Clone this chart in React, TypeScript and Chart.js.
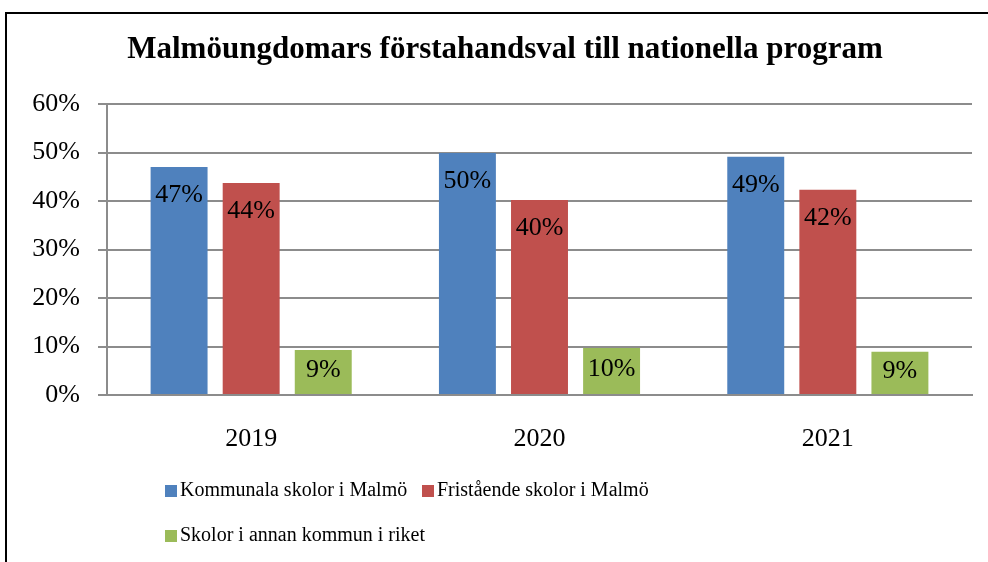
import React, { useEffect, useRef } from "react";
import { Chart, registerables } from "chart.js";

Chart.register(...registerables);

const categories = ["2019", "2020", "2021"];
const kommunala = [47.0, 49.9, 49.1];
const fristaende = [43.7, 40.2, 42.3];
const annanKommun = [9.3, 9.7, 8.9];
const seriesNames = [
  "Kommunala skolor i Malmö",
  "Fristående skolor i Malmö",
  "Skolor i annan kommun i riket",
];
const seriesColors = ["#4F81BD", "#C0504D", "#9BBB59"];
const yTicks = [0, 10, 20, 30, 40, 50, 60];
const titleText = "Malmöungdomars förstahandsval till nationella program";

const FONT = "'Liberation Serif', 'DejaVu Serif', serif";

const framePlugin = {
  id: "frame",
  beforeDraw(chart: any) {
    const ctx = chart.ctx;
    ctx.save();
    ctx.fillStyle = "#ffffff";
    ctx.fillRect(0, 0, chart.width, chart.height);
    ctx.strokeStyle = "#000000";
    ctx.lineWidth = 2;
    ctx.strokeRect(6, 13, chart.width + 100, chart.height + 100);
    ctx.restore();
  },
  afterDraw(chart: any) {
    const ctx = chart.ctx;
    ctx.save();
    ctx.font = `bold 31px ${FONT}`;
    ctx.fillStyle = "#000000";
    ctx.textAlign = "center";
    ctx.textBaseline = "middle";
    ctx.fillText(titleText, 505, 50);
    ctx.restore();
  },
};

const labelPlugin = {
  id: "barLabels",
  afterDatasetsDraw(chart: any) {
    const ctx = chart.ctx;
    ctx.save();
    ctx.font = `26px ${FONT}`;
    ctx.fillStyle = "#000000";
    ctx.textAlign = "center";
    ctx.textBaseline = "middle";
    chart.data.datasets.forEach((ds: any, di: number) => {
      const meta = chart.getDatasetMeta(di);
      meta.data.forEach((el: any, i: number) => {
        const h = el.base - el.y;
        const y = el.y + Math.min(28, h / 2 - 2);
        ctx.fillText(Math.round(ds.data[i]) + "%", el.x, y);
      });
    });
    ctx.restore();
  },
};

const legendPlugin = {
  id: "customLegend",
  afterDraw(chart: any) {
    const ctx = chart.ctx;
    const pos = [
      { x: 165, y: 491 },
      { x: 422, y: 491 },
      { x: 165, y: 536 },
    ];
    ctx.save();
    ctx.font = `20px ${FONT}`;
    ctx.textBaseline = "middle";
    ctx.textAlign = "left";
    chart.data.datasets.forEach((ds: any, i: number) => {
      const p = pos[i];
      ctx.fillStyle = ds.backgroundColor;
      ctx.fillRect(p.x, p.y - 6, 12, 12);
      ctx.fillStyle = "#000000";
      ctx.fillText(ds.label, p.x + 15, p.y);
    });
    ctx.restore();
  },
};

export default function App() {
  const ref = useRef<HTMLCanvasElement | null>(null);
  useEffect(() => {
    if (!ref.current) return;
    const datasets = [kommunala, fristaende, annanKommun].map((d, i) => ({
      label: seriesNames[i],
      data: d,
      backgroundColor: seriesColors[i],
      borderWidth: 0,
      categoryPercentage: 0.75,
      barPercentage: 0.79,
    }));
    const chart = new Chart(ref.current, {
      type: "bar",
      data: { labels: categories, datasets },
      options: {
        animation: false,
        responsive: false,
        devicePixelRatio: 1,
        layout: { padding: { left: 0, right: 16, top: 104, bottom: 0 } },
        plugins: {
          legend: { display: false },
          tooltip: { enabled: false },
          title: { display: false },
        },
        scales: {
          x: {
            grid: { display: false },
            border: { display: true, color: "#8c8c8c", width: 2 },
            ticks: {
              color: "#000000",
              font: { family: FONT, size: 26 },
              padding: 21,
            },
            afterFit: (s: any) => {
              s.height = 167;
            },
          },
          y: {
            min: 0,
            max: 60,
            afterBuildTicks: (s: any) => {
              s.ticks = yTicks.map((v) => ({ value: v }));
            },
            grid: { color: "#8c8c8c", lineWidth: 2, tickLength: 9 },
            border: { display: true, color: "#8c8c8c", width: 2 },
            ticks: {
              color: "#000000",
              font: { family: FONT, size: 26 },
              padding: 18,
              callback: (v: any) => v + "%",
            },
            afterFit: (s: any) => {
              s.width = 107;
            },
          },
        },
      },
      plugins: [framePlugin, labelPlugin, legendPlugin],
    });
    return () => chart.destroy();
  }, []);
  return (
    <div style={{ position: "fixed", left: 0, top: 0, width: 988, height: 562 }}>
      <canvas ref={ref} width={988} height={562} style={{ width: 988, height: 562 }} />
    </div>
  );
}
